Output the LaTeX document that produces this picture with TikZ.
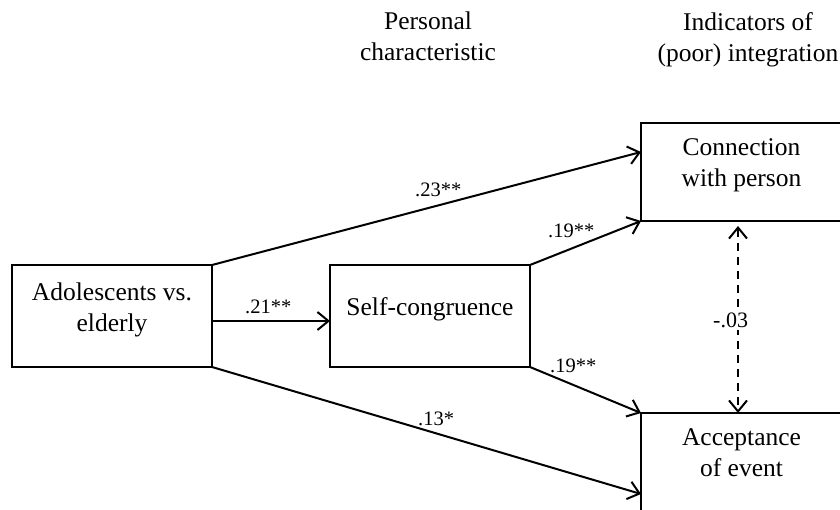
\documentclass[tikz,border=0pt]{standalone}
\usepackage{fontspec}
\setmainfont{Liberation Serif}
\usetikzlibrary{arrows.meta}
\begin{document}
\begin{tikzpicture}[x=1pt,y=-1pt,
  box/.style={draw, line width=2pt, inner sep=0pt, outer sep=0pt, minimum width=200pt,
    align=center, font=\fontsize{25.5}{31}\selectfont,
    execute at end node={\rule[-18pt]{0pt}{19pt}}},
  hdr/.style={inner sep=0pt, align=center, anchor=north, font=\fontsize{25.5}{31}\selectfont},
  lab/.style={inner sep=0pt, anchor=base west, font=\fontsize{20.5}{24}\selectfont},
  conn/.style={line width=2pt, -{Straight Barb[length=11pt,width=18pt]}},
  corr/.style={line width=2pt, dash pattern=on 8pt off 6pt,
    {Straight Barb[length=11pt,width=18pt]}-{Straight Barb[length=11pt,width=18pt]}}
]
\useasboundingbox (0,0) rectangle (840,510);
\clip (0,0) rectangle (840,510);

% headers
\node[hdr] (h1) at (428,12) {Personal\\characteristic};
\node[hdr] (h2) at (748,12) {Indicators of\\(poor) integration};

% boxes
\node[box, minimum height=102pt] (A) at (112,316) {Adolescents vs.\\elderly};
\node[box, minimum height=102pt] (S) at (430,316) {Self-congruence};
\node[box, minimum width=201pt, minimum height=98pt] (C) at (741.5,172) {Connection\\with person};
\node[box, minimum width=201pt, minimum height=98pt] (E) at (741.5,462) {Acceptance\\of event};

% connectors
\draw[conn] (A.north east) -- ([yshift=20pt]C.west);
\draw[conn] ([yshift=-5pt]A.east) -- ([yshift=-5pt]S.west);
\draw[conn] (S.north east) -- (C.south west);
\draw[conn] (S.south east) -- (E.north west);
\draw[conn] (A.south east) -- ([yshift=-32pt]E.west);
\draw[corr] ([xshift=-3.5pt,yshift=-5pt]C.south) -- ([xshift=-3.5pt]E.north);

% labels
\node[lab] (l1) at (415,197) {.23**};
\node[lab] (l2) at (245,313) {.21**};
\node[lab] (l3) at (548,238) {.19**};
\node[lab] (l4) at (550,372) {.19**};
\node[lab] (l5) at (418,425) {.13*};
\node[lab, inner sep=3pt, fill=white, font=\fontsize{22}{26}\selectfont] (l6) at (710,327) {-.03};
\end{tikzpicture}
\end{document}
